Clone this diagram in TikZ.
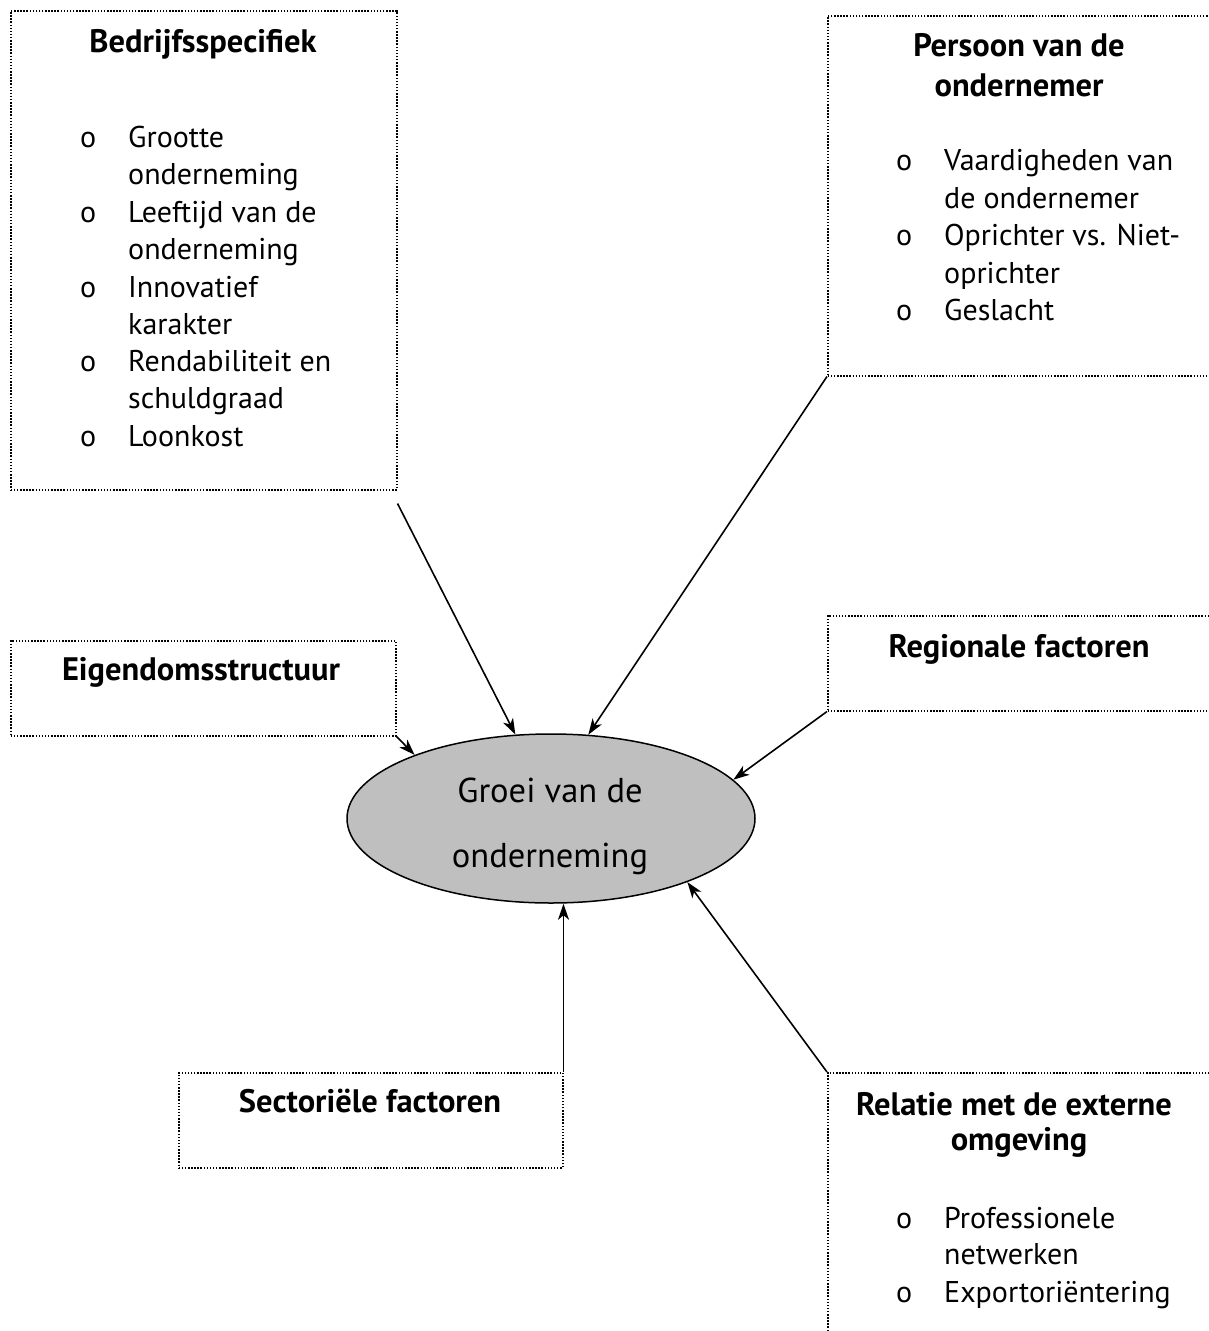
\documentclass[tikz,border=0pt]{standalone}
\usepackage{fontspec}
\setmainfont{PT Sans}
\usetikzlibrary{shapes.geometric,arrows.meta}
\begin{document}
\begin{tikzpicture}[x=1pt,y=-1pt,
  box/.style={draw, line width=1.5pt, dash pattern=on 1.5pt off 1.6pt, inner sep=0pt, anchor=north west},
  ttl/.style={font=\bfseries\fontsize{32.5}{38}\selectfont, anchor=base, inner sep=0pt},
  itm/.style={font=\fontsize{30}{36}\selectfont, anchor=base west, inner sep=0pt},
  arr/.style={-{Stealth[length=16pt,width=11pt,inset=4.5pt]}, line width=1.6pt}]
\useasboundingbox (0,0) rectangle (1208,1331);
% boxes
\node[box, minimum width=386pt, minimum height=479pt] (b1) at (10,10) {};
\node[box, minimum width=385pt, minimum height=360pt] (b2) at (827,15) {};
\node[box, minimum width=385pt, minimum height=95pt] (b3) at (10,640) {};
\node[box, minimum width=385pt, minimum height=95pt] (b4) at (827,615) {};
\node[box, minimum width=384pt, minimum height=95pt] (b5) at (178,1072) {};
\node[box, minimum width=385pt, minimum height=300pt] (b6) at (827,1072) {};
% ellipse
\node[ellipse, draw, line width=1.5pt, fill=black!25, minimum width=408pt, minimum height=169pt, inner sep=0pt] (g) at (551,818.5) {};
\node[font=\fontsize{34.5}{40}\selectfont, anchor=base, inner sep=0pt] (g1) at (550,802) {Groei van de};
\node[font=\fontsize{34.5}{40}\selectfont, anchor=base, inner sep=0pt] (g2) at (550,867) {onderneming};
% titles
\node[ttl] (t1) at (203,52) {Bedrijfsspecifiek};
\node[ttl] (t2a) at (1019,56) {Persoon van de};
\node[ttl] (t2b) at (1019,96) {ondernemer};
\node[ttl] (t3) at (201,680) {Eigendomsstructuur};
\node[ttl] (t4) at (1019,657) {Regionale factoren};
\node[ttl] (t5) at (370,1112) {Sectoriële factoren};
\node[ttl] (t6a) at (1014,1115) {Relatie met de externe};
\node[ttl] (t6b) at (1019,1150) {omgeving};
% box 1 items
\foreach \y/\b/\t [count=\i] in {147/o/Grootte, 184.5//onderneming, 222/o/Leeftijd van de, 259//onderneming, 297/o/Innovatief, 334//karakter, 371/o/Rendabiliteit en, 408//schuldgraad, 446/o/Loonkost}{
  \node[itm] (a\i) at (80,\y) {\b};
  \node[itm] (at\i) at (128,\y) {\t};
}
% box 2 items
\foreach \y/\b/\t [count=\i] in {170/o/Vaardigheden van, 208//de ondernemer, 245/o/Oprichter vs. Niet-, 283//oprichter, 320/o/Geslacht}{
  \node[itm] (p\i) at (896,\y) {\b};
  \node[itm] (pt\i) at (944,\y) {\t};
}
% box 6 items
\foreach \y/\b/\t [count=\i] in {1228/o/Professionele, 1264//netwerken, 1302/o/Exportoriëntering}{
  \node[itm] (r\i) at (896,\y) {\b};
  \node[itm] (rt\i) at (944,\y) {\t};
}
% arrows
\draw[arr] ([yshift=-13pt]b1.south east) -- (g.113);
\draw[arr] (b2.south west) -- (g.66.7);
\draw[arr] (b3.south east) -- (g.155);
\draw[arr] (b4.south west) -- (g.12);
\draw[arr] (b5.north east) -- (b5.north east |- g.south);
\draw[arr] (b6.north west) -- (g.-25);
\end{tikzpicture}
\end{document}
